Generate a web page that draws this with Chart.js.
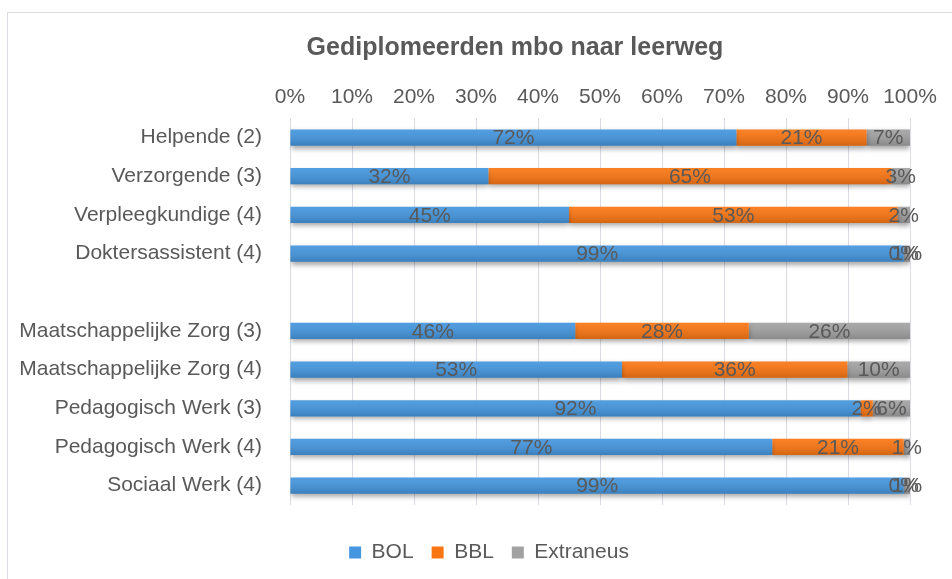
<!DOCTYPE html>
<html>
	<head>
		<title>Gediplomeerden mbo naar leerweg</title>
		<meta charset="UTF-8">
		<script src="https://cdn.jsdelivr.net/npm/chart.js@4.4.1/dist/chart.umd.min.js"></script>
		<style>
			body { margin: 0; overflow: hidden; background: #fff; }
			#frame { position: absolute; left: 7px; top: 12px; width: 1000px; height: 620px; border: 1px solid #dadde2; }
			#myChart { position: absolute; left: 0; top: 0; }
		</style>
	</head>
	<body>
		<div id="frame"></div>
		<canvas id="myChart" width="952" height="579"></canvas>
		<script>
			const title = 'Gediplomeerden mbo naar leerweg';
			const categories = ['Helpende (2)', 'Verzorgende (3)', 'Verpleegkundige (4)', 'Doktersassistent (4)', '',
				'Maatschappelijke Zorg (3)', 'Maatschappelijke Zorg (4)', 'Pedagogisch Werk (3)', 'Pedagogisch Werk (4)', 'Sociaal Werk (4)'];
			const bol = [72, 32, 45, 99, null, 46, 53, 92, 77, 99];
			const bbl = [21, 65, 53, 0, null, 28, 36, 2, 21, 0];
			const extraneus = [7, 3, 2, 1, null, 26, 10, 6, 1, 1];
			const seriesNames = ['BOL', 'BBL', 'Extraneus'];
			const seriesColors = ['#4496de', '#fa7613', '#a2a2a2'];

			const textColor = '#595959';
			const font = 'Arial, "Liberation Sans", sans-serif';

			// 100% stacked: scale each row to its own total
			const raw = [bol, bbl, extraneus];
			const totals = categories.map((c, i) => raw.reduce((s, arr) => s + (arr[i] || 0), 0));
			const toPct = arr => arr.map((v, i) => v === null ? null : v / totals[i] * 100);

			const barLook = {
				id: 'barLook',
				afterLayout(chart) {
					// legend sits a bit right of the canvas centre in the original
					chart.legend.left += 27;
					chart.legend.right += 27;
				},
				beforeDatasetsDraw(chart) {
					const ctx = chart.ctx;
					ctx.save();
					ctx.shadowColor = 'rgba(0,0,0,0.35)';
					ctx.shadowBlur = 5;
					ctx.shadowOffsetY = 3;
				},
				afterDatasetsDraw(chart) {
					const ctx = chart.ctx;
					ctx.restore();
					// soft top-to-bottom shading, like the office look
					chart.data.datasets.forEach((ds, d) => {
						chart.getDatasetMeta(d).data.forEach((el, i) => {
							if (ds.data[i] === null) return;
							const p = el.getProps(['x', 'y', 'base', 'height'], true);
							const top = p.y - p.height / 2;
							const g = ctx.createLinearGradient(0, top, 0, top + p.height);
							g.addColorStop(0, 'rgba(255,255,255,0.08)');
							g.addColorStop(1, 'rgba(0,0,0,0.15)');
							ctx.fillStyle = g;
							ctx.fillRect(Math.min(p.base, p.x), top, Math.abs(p.x - p.base), p.height);
						});
					});
					// data labels
					ctx.save();
					ctx.font = '21px ' + font;
					ctx.fillStyle = textColor;
					ctx.textAlign = 'center';
					ctx.textBaseline = 'middle';
					chart.data.datasets.forEach((ds, d) => {
						chart.getDatasetMeta(d).data.forEach((el, i) => {
							const v = raw[d][i];
							if (v === null) return;
							const p = el.getProps(['x', 'y', 'base'], true);
							ctx.fillText(v + '%', (p.x + p.base) / 2, p.y + 1);
						});
					});
					ctx.restore();
				},
				afterDraw(chart) {
					const ctx = chart.ctx;
					ctx.save();
					ctx.font = 'bold 25px ' + font;
					ctx.fillStyle = textColor;
					ctx.textAlign = 'center';
					ctx.textBaseline = 'middle';
					ctx.fillText(title, 515, 48);
					ctx.restore();
				}
			};

			const ctx = document.getElementById('myChart').getContext('2d');
			const chart = new Chart(ctx, {
				type: 'bar',
				data: {
					labels: categories,
					datasets: raw.map((arr, d) => ({
						label: seriesNames[d],
						data: toPct(arr),
						backgroundColor: seriesColors[d],
						borderWidth: 0,
						barPercentage: 0.42,
						categoryPercentage: 1
					}))
				},
				options: {
					indexAxis: 'y',
					responsive: false,
					animation: false,
					devicePixelRatio: 1,
					layout: { padding: { left: 14, right: 42, top: 77, bottom: 6 } },
					scales: {
						x: {
							position: 'top',
							stacked: true,
							min: 0,
							max: 100,
							ticks: {
								stepSize: 10,
								padding: 8,
								color: textColor,
								font: { family: font, size: 21 },
								callback: v => v + '%'
							},
							grid: { color: '#d9dde3', drawTicks: false },
							border: { display: false }
						},
						y: {
							stacked: true,
							grid: { display: false },
							border: { display: false },
							ticks: { padding: 20, color: textColor, font: { family: font, size: 21 } },
							afterFit: s => { s.width = 276; }
						},
						spacer: {
							type: 'linear',
							axis: 'x',
							position: 'bottom',
							display: true,
							ticks: { display: false },
							grid: { display: false },
							border: { display: false },
							afterFit: s => { s.height = 19; }
						}
					},
					plugins: {
						title: { display: false },
						tooltip: { enabled: false },
						legend: {
							position: 'bottom',
							labels: {
								boxWidth: 12,
								boxHeight: 12,
								padding: 18,
								color: textColor,
								font: { family: font, size: 21 }
							}
						}
					}
				},
				plugins: [barLook]
			});
		</script>
	</body>
</html>
